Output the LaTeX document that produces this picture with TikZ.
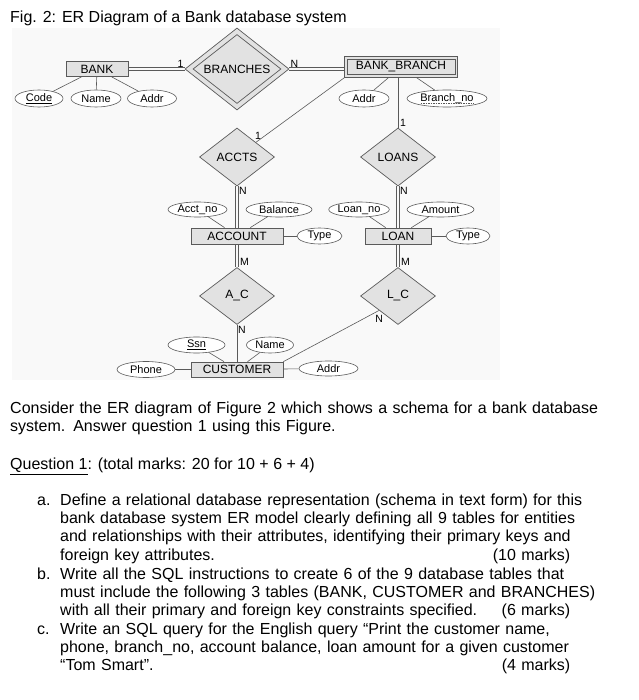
\documentclass[tikz,border=0pt]{standalone}
\usepackage{fontspec}
\setmainfont{Liberation Sans}
\usetikzlibrary{shapes.geometric}

\definecolor{erfill}{HTML}{E2E2E2}
\definecolor{erline}{HTML}{5A5A5A}
\definecolor{erback}{HTML}{F9F9F9}
\newcommand{\erfont}{\fontsize{12}{14}\selectfont}
\newcommand{\atfont}{\fontsize{11}{13}\selectfont}
\newcommand{\txfont}{\fontsize{16}{18.4}\selectfont}

\tikzset{
  entidad/.style={draw=erline, fill=erfill, line width=0.7pt, minimum height=15pt, inner sep=0pt, font=\erfont},
  relacion/.style={diamond, aspect=1, draw=erline, fill=erfill, line width=0.7pt, inner sep=0pt,
    minimum width=75pt, minimum height=58pt, font=\erfont},
  atributo/.style={ellipse, draw=erline, fill=white, line width=0.6pt, inner sep=0pt, minimum height=16pt, font=\atfont},
  enlace/.style={draw=erline, line width=0.6pt},
  doble/.style={draw=erline, line width=0.7pt},
  card/.style={font=\fontsize{10.5}{12}\selectfont, inner sep=1pt},
  texto/.style={font=\txfont, inner sep=0pt, align=left},
}

\begin{document}
\begin{tikzpicture}[x=1pt, y=-1pt]
    % Fija el tamaño de la página y el fondo del diagrama.
    \useasboundingbox (0,0) rectangle (638,700);
    \fill[erback] (12,28) rectangle (500,380);

    % Título de la figura.
    \node[texto, anchor=base west] (titulo) at (10,22.5) {Fig. 2: ER Diagram of a Bank database system};

    % Entidades (rectángulos) y la entidad débil BANK_BRANCH.
    \node[entidad, minimum width=62pt] (BANK) at (97,69) {BANK};
    \node[entidad, minimum width=113pt, minimum height=21pt] (BANKBR) at (401,67) {BANK\_BRANCH};
    \draw[erline, line width=0.7pt] ([shift={(3pt,-3pt)}]BANKBR.north west) rectangle ([shift={(-3pt,3pt)}]BANKBR.south east);
    \node[entidad, minimum width=92pt, minimum height=16pt] (ACCOUNT) at (237,236) {ACCOUNT};
    \node[entidad, minimum width=66pt, minimum height=16pt] (LOAN) at (398,236) {LOAN};
    \node[entidad, minimum width=92pt] (CUSTOMER) at (237,369.5) {CUSTOMER};

    % Relaciones (rombos); BRANCHES es una relación identificadora.
    \node[relacion, minimum width=104pt, minimum height=82pt] (BRANCHES) at (237,69) {BRANCHES};
    \node[relacion, fill=none, minimum width=88pt, minimum height=69pt] (BRANCHESin) at (BRANCHES) {};
    \node[relacion] (ACCTS) at (237,157) {ACCTS};
    \node[relacion] (LOANS) at (398,157) {LOANS};
    \node[relacion, minimum height=57pt] (AC) at (237,296) {A\_C};
    \node[relacion, minimum height=57pt] (LC) at (398,296) {L\_C};

    % Atributos (elipses).
    \node[atributo, minimum width=48pt, minimum height=17pt] (Code) at (39,98.5) {\underline{Code}};
    \node[atributo, minimum width=50pt, minimum height=17pt] (Name) at (96,98.5) {Name};
    \node[atributo, minimum width=49pt, minimum height=17pt] (Addr) at (152,98.5) {Addr};
    \node[atributo, minimum width=50pt, minimum height=17pt] (AddrBB) at (364,98.5) {Addr};
    \node[atributo, minimum width=80pt, minimum height=17pt] (Branchno) at (447,98.5) {Branch\_no};
    \node[atributo, minimum width=59pt, minimum height=15pt] (Acctno) at (197.5,209.5) {Acct\_no};
    \node[atributo, minimum width=66pt, minimum height=15pt] (Balance) at (279,209.5) {Balance};
    \node[atributo, minimum width=45pt] (TypeA) at (319.5,236) {Type};
    \node[atributo, minimum width=58pt, minimum height=15pt] (Loanno) at (359,209.5) {Loan\_no};
    \node[atributo, minimum width=67pt, minimum height=15pt] (Amount) at (440.5,209.5) {Amount};
    \node[atributo, minimum width=44pt] (TypeL) at (468,236) {Type};
    \node[atributo, minimum width=57pt] (Ssn) at (196.5,345) {\underline{Ssn}};
    \node[atributo, minimum width=47pt] (NameC) at (270,345) {Name};
    \node[atributo, minimum width=58pt] (Phone) at (146,369.5) {Phone};
    \node[atributo, minimum width=59pt, minimum height=15pt] (AddrC) at (328.5,368.5) {Addr};

    % Clave parcial de la entidad débil (subrayado punteado).
    \draw[erline, line width=0.5pt, dash pattern=on 1.5pt off 1pt] ([xshift=-26.5pt, yshift=-2pt]Branchno.base) -- ([xshift=26.5pt, yshift=-2pt]Branchno.base);

    % Líneas de atributos.
    \foreach \a in {Code, Name, Addr} \draw[enlace] (BANK) -- (\a);
    \foreach \a in {AddrBB, Branchno} \draw[enlace] (BANKBR) -- (\a);
    \foreach \a in {Acctno, Balance, TypeA} \draw[enlace] (ACCOUNT) -- (\a);
    \foreach \a in {Loanno, Amount, TypeL} \draw[enlace] (LOAN) -- (\a);
    \foreach \a in {Ssn, NameC, Phone, AddrC} \draw[enlace] (CUSTOMER) -- (\a);

    % Participación total: líneas dobles.
    \coordinate (BBizq) at (BRANCHES.east -| BANKBR.west);
    \foreach \s in {-1.3pt, 1.3pt} {
        \draw[doble] ([yshift=\s]BANK.east) -- ([yshift=\s]BRANCHES.west);
        \draw[doble] ([yshift=\s]BRANCHES.east) -- ([yshift=\s]BBizq);
        \draw[doble] ([xshift=\s]ACCTS.south) -- ([xshift=\s]ACCOUNT.north);
        \draw[doble] ([xshift=\s]LOANS.south) -- ([xshift=\s]LOAN.north);
        \draw[doble] ([xshift=\s]ACCOUNT.south) -- ([xshift=\s]AC.north);
        \draw[doble] ([xshift=\s]LOAN.south) -- ([xshift=\s]LC.north);
    }

    % Participación parcial: líneas simples.
    \draw[enlace] (BANKBR.south west) -- (ACCTS.north east);
    \draw[enlace] (LOANS.north |- BANKBR.south) -- (LOANS.north);
    \draw[enlace] (AC) -- (CUSTOMER);
    \draw[enlace] (CUSTOMER.north east) -- (LC.south west);

    % Cardinalidades.
    \node[card, anchor=south east] (c1) at (BRANCHES.west) {1};
    \node[card, anchor=south west] (c2) at (BRANCHES.east) {N};
    \node[card, anchor=south west, xshift=-2pt, yshift=2pt] (c3) at (ACCTS.north east) {1};
    \node[card, anchor=south west, xshift=1pt] (c4) at (LOANS.north) {1};
    \node[card, anchor=north west, xshift=1pt] (c5) at (ACCTS.south) {N};
    \node[card, anchor=north west, xshift=1pt] (c6) at (LOANS.south) {N};
    \node[card, anchor=south west, xshift=2pt] (c7) at (AC.north) {M};
    \node[card, anchor=south west, xshift=2pt] (c8) at (LC.north) {M};
    \node[card, anchor=north west] (c9) at (AC.south) {N};
    \node[card, below=4pt] (c10) at (LC.south west) {N};

    % Enunciado de la pregunta.
    \node[texto, anchor=base west, text width=600pt] (intro) at (10,413) {Consider the ER diagram of Figure 2 which shows a schema for a bank database\\system. Answer question 1 using this Figure.};
    \node[texto, anchor=base west] (preg) at (10,469.5) {\underline{Question 1}: (total marks: 20 for 10 + 6 + 4)};

    % Apartados a, b y c.
    \node[texto, anchor=base west] (la) at (37,505) {a.};
    \node[texto, anchor=base west, text width=545pt] (ia) at (60,505) {Define a relational database representation (schema in text form) for this\\bank database system ER model clearly defining all 9 tables for entities\\and relationships with their attributes, identifying their primary keys and\\foreign key attributes.\hfill(10 marks)\hspace*{35pt}\null};
    \node[texto, anchor=base west] (lb) at (37,579) {b.};
    \node[texto, anchor=base west, text width=545pt] (ib) at (60,579) {Write all the SQL instructions to create 6 of the 9 database tables that\\must include the following 3 tables (BANK, CUSTOMER and BRANCHES)\\with all their primary and foreign key constraints specified.\hfill(6 marks)\hspace*{35pt}\null};
    \node[texto, anchor=base west] (lc) at (37,634) {c.};
    \node[texto, anchor=base west, text width=545pt] (ic) at (60,634) {Write an SQL query for the English query “Print the customer name,\\phone, branch\_no, account balance, loan amount for a given customer\\“Tom Smart”.\hfill(4 marks)\hspace*{35pt}\null};
\end{tikzpicture}
\end{document}
